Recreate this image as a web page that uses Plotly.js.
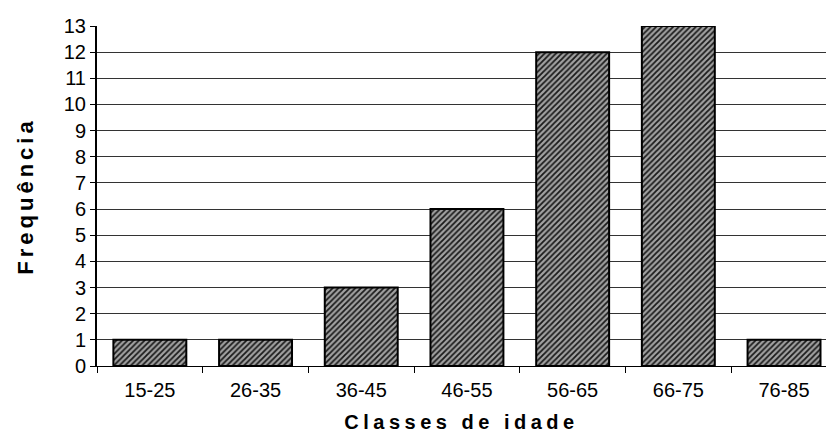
<!DOCTYPE html>
<html>
<head>
<meta charset="utf-8">
<script src="https://cdn.plot.ly/plotly-3.0.1.min.js"></script>
<style>html,body{margin:0;padding:0;background:#fff;}#chart{width:826px;height:435px;}</style>
</head>
<body>
<div id="chart"></div>
<script>
const categories = ["15-25", "26-35", "36-45", "46-55", "56-65", "66-75", "76-85"];
const frequencies = [1, 1, 3, 6, 12, 13, 1];
const yTicks = [0,1,2,3,4,5,6,7,8,9,10,11,12,13];
const xTitle = "Classes de idade";
const yTitle = "Frequência";

const trace = {
  type: "bar",
  x: categories,
  y: frequencies,
  marker: {
    color: "#a0a0a0",
    line: {color: "#000", width: 2},
    pattern: {shape: "/", fgcolor: "#1a1a1a", bgcolor: "#a2a2a2", size: 4, solidity: 0.45}
  },
  hoverinfo: "skip"
};

const layout = {
  width: 826, height: 435,
  margin: {l: 97, r: 0, t: 26, b: 69},
  paper_bgcolor: "#fff", plot_bgcolor: "#fff",
  bargap: 0.31,
  showlegend: false,
  font: {family: "Liberation Sans, Arial, sans-serif", color: "#000", size: 20},
  xaxis: {
    type: "category",
    range: [-0.5, 6.397],
    tickson: "boundaries",
    ticks: "outside", ticklen: 6, tickcolor: "#000", tickwidth: 1,
    ticklabelstandoff: 6,
    showline: true, linecolor: "#000", linewidth: 1,
    showgrid: false,
    tickfont: {size: 20},
    title: {text: '<span style="letter-spacing:4.5px">' + xTitle + '</span>', font: {size: 20, weight: "bold"}, standoff: 14}
  },
  yaxis: {
    range: [0, 13],
    tickvals: yTicks,
    ticks: "outside", ticklen: 5, tickcolor: "#000",
    showline: true, linecolor: "#000", linewidth: 2,
    showgrid: true, gridcolor: "#333", gridwidth: 1,
    zeroline: false,
    tickfont: {size: 20},
    title: {text: '<span style="letter-spacing:4px">' + yTitle + '</span>', font: {size: 22, weight: "bold"}, standoff: 24}
  }
};

Plotly.newPlot("chart", [trace], layout, {displayModeBar: false, staticPlot: true});
</script>
</body>
</html>
